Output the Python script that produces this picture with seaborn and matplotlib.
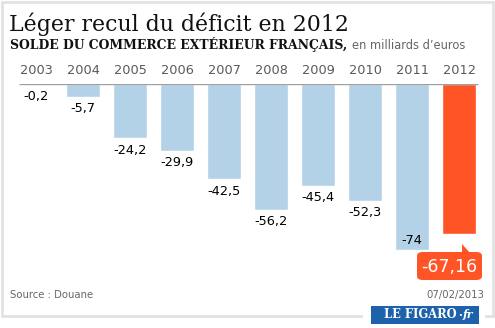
import matplotlib
matplotlib.use("Agg")
import matplotlib.pyplot as plt
from matplotlib.patches import Rectangle, FancyBboxPatch, Polygon
import seaborn as sns
import pandas as pd

years = ["2003", "2004", "2005", "2006", "2007", "2008", "2009", "2010", "2011", "2012"]
values = [-0.2, -5.7, -24.2, -29.9, -42.5, -56.2, -45.4, -52.3, -74, -67.16]
labels = ["-0,2", "-5,7", "-24,2", "-29,9", "-42,5", "-56,2", "-45,4", "-52,3", "-74", "-67,16"]

BLUE = "#b4d2e7"
ORANGE = "#ff5526"
colors = [BLUE] * 9 + [ORANGE]

W, H = 495, 328
sns.set_theme(style="white")
plt.rcParams["font.family"] = ["DejaVu Sans"]

fig = plt.figure(figsize=(W / 100, H / 100), dpi=100)
fig.patch.set_facecolor("white")


def fx(px):
    return px / W


def fy(py):
    return 1 - py / H


# plotting area: baseline at y=84 px, 2.24 px per unit
left_px, right_px = 12.5, 482.5
top_px, bottom_px = 84, 84 + 224
ax = fig.add_axes([fx(left_px), fy(bottom_px), fx(right_px - left_px), (bottom_px - top_px) / H])

df = pd.DataFrame({"year": years, "value": values})
sns.barplot(data=df, x="year", y="value", hue="year", palette=colors, legend=False,
            width=0.72, saturation=1, ax=ax)
ax.set_xlim(-0.5, len(years) - 0.5)
ax.set_ylim(-100, 0)
ax.axis("off")

# zero line
ax.plot([-0.36, 9.4], [0, 0], color="#a0a0a0", lw=1.0, solid_capstyle="butt", zorder=3)

# year labels above the zero line
for i, yr in enumerate(years):
    ax.annotate(yr, (i, 0), xytext=(0, 5), textcoords="offset points",
                ha="center", va="bottom", fontsize=9.3, color="#5a5a5a")

# value labels
for i, (v, lab) in enumerate(zip(values, labels)):
    if i == len(values) - 1:
        continue
    if v <= -70:
        ax.annotate(lab, (i, v), xytext=(0, 6.5), textcoords="offset points",
                    ha="center", va="center", fontsize=9.3, color="black")
    else:
        ax.annotate(lab, (i, v), xytext=(0, -8.5), textcoords="offset points",
                    ha="center", va="center", fontsize=9.3, color="black")

# callout for the last year
bx0, bx1, by0, by1 = 417, 482, 252, 280
box = FancyBboxPatch((fx(bx0), fy(by1)), fx(bx1 - bx0), (by1 - by0) / H,
                     boxstyle="round,pad=0,rounding_size=0.012",
                     transform=fig.transFigure, facecolor=ORANGE, edgecolor="none", zorder=5)
fig.patches.append(box)
tri = Polygon([(fx(462), fy(244)), (fx(462), fy(253)), (fx(470), fy(253))],
              closed=True, transform=fig.transFigure, facecolor=ORANGE, edgecolor="none", zorder=5)
fig.patches.append(tri)
fig.text(fx((bx0 + bx1) / 2), fy((by0 + by1) / 2 + 0.5), labels[-1], ha="center", va="center",
         fontsize=12.5, color="white", zorder=6)

# frame
fig.patches.append(Rectangle((fx(1.5), fy(315.5)), fx(491), 313.5 / H, transform=fig.transFigure,
                             facecolor="none", edgecolor="#e2e2e2", lw=2, zorder=0))

# titles
fig.text(fx(9), fy(31), "Léger recul du déficit en 2012", ha="left", va="baseline",
         fontsize=15.8, color="#111111", family="DejaVu Serif")
fig.text(fx(10), fy(49), "SOLDE DU COMMERCE EXTÉRIEUR FRANÇAIS,", ha="left", va="baseline",
         fontsize=8.95, color="#111111", family="DejaVu Serif", weight="bold")
fig.text(fx(352), fy(49), "en milliards d\u2019euros", ha="left", va="baseline",
         fontsize=8.3, color="#666666")

# footer
fig.text(fx(10), fy(298), "Source : Douane", ha="left", va="baseline", fontsize=7.3, color="#666666")
fig.text(fx(484), fy(298), "07/02/2013", ha="right", va="baseline", fontsize=7.3, color="#666666")

# logo
fig.patches.append(Rectangle((fx(363), 0), fx(122), 15 / H, transform=fig.transFigure,
                             facecolor="white", edgecolor="none", zorder=1))
fig.patches.append(Rectangle((fx(371), fy(324)), fx(108), 18 / H, transform=fig.transFigure,
                             facecolor="#1d62ab", edgecolor="none", zorder=2))
fig.text(fx(420), fy(315), "LE FIGARO", ha="center", va="center", fontsize=8.3, color="white",
         family="DejaVu Serif", weight="bold", zorder=3)
fig.text(fx(460), fy(315), "\u00b7", ha="center", va="center", fontsize=8, color="white",
         family="DejaVu Serif", weight="bold", zorder=3)
fig.text(fx(468), fy(315), "fr", ha="center", va="center", fontsize=8, color="white",
         family="DejaVu Serif", style="italic", weight="bold", zorder=3)

fig.savefig("out.png", dpi=100, facecolor="white")
